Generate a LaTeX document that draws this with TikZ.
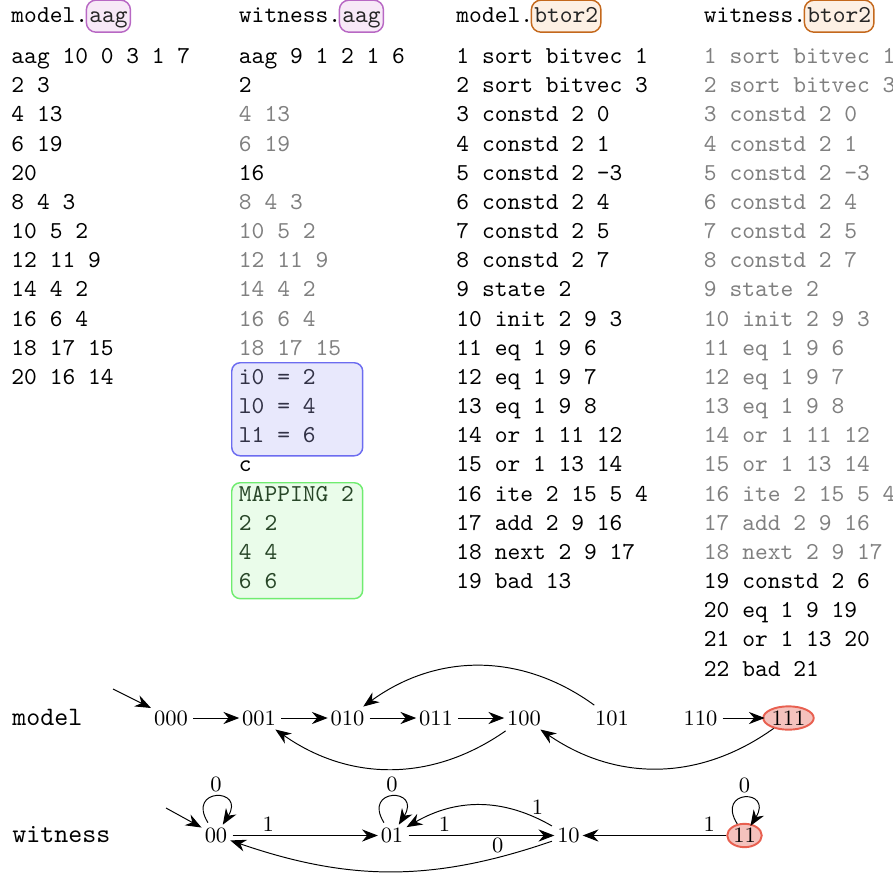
\documentclass[tikz,border=0pt]{standalone}
\usepackage{fontspec}
\usetikzlibrary{arrows.meta,shapes.geometric}
\definecolor{purpbd}{RGB}{184,104,196}
\definecolor{purpfl}{RGB}{247,233,247}
\definecolor{orgbd}{RGB}{196,104,28}
\definecolor{orgfl}{RGB}{253,240,228}
\definecolor{bluebd}{RGB}{108,108,240}
\definecolor{bluefl}{RGB}{232,232,252}
\definecolor{grnbd}{RGB}{112,236,112}
\definecolor{grnfl}{RGB}{234,252,234}
\definecolor{redbd}{RGB}{232,96,80}
\definecolor{redfl}{RGB}{245,194,189}
\definecolor{greytext}{RGB}{128,128,128}
\definecolor{bluetext}{RGB}{50,50,70}
\definecolor{grntext}{RGB}{40,70,40}
\begin{document}
\begin{tikzpicture}[x=0.4115pt,y=-0.4115pt,
  >={Stealth[length=6.5pt,width=5pt]},
  code/.style={font=\ttfamily, anchor=base west, inner sep=0pt},
  hl/.style={draw=#1bd, fill=#1fl, line width=0.6pt, rounded corners=4pt,
    inner xsep=1.2pt, inner ysep=0.6pt, font=\ttfamily, text=black!85,
    anchor=base west, xshift=-1.2pt},
  panel/.style={draw=#1bd, fill=#1fl, line width=0.6pt, rounded corners=3.5pt,
    anchor=north west, inner sep=0pt},
  state/.style={font=\small, inner sep=2pt},
  accept/.style={ellipse, draw=redbd, fill=redfl, line width=0.8pt, inner sep=0.4pt, font=\small},
  lab/.style={font=\small, inner sep=1.5pt},
  rowlab/.style={font=\ttfamily\fontsize{10.95}{13}\selectfont, anchor=base west, inner sep=0pt},
  tr/.style={->, shorten >=-1pt},
  selfloop/.style={out=122, in=58, min distance=6mm, looseness=1},
]
\useasboundingbox (0,0) rectangle (893,878);

% headers
\node[code] (h1) at (11,22) {model.};
\node[hl=purp] (h1b) at (h1.base east) {\strut aag};
\node[code] (h2) at (238.5,22) {witness.};
\node[hl=purp] (h2b) at (h2.base east) {\strut aag};
\node[code] (h3) at (456,22) {model.};
\node[hl=org] (h3b) at (h3.base east) {\strut btor2};
\node[code] (h4) at (703.5,22) {witness.};
\node[hl=org] (h4b) at (h4.base east) {\strut btor2};

% column 1
\foreach \t [count=\i from 0] in {aag 10 0 3 1 7, 2 3, 4 13, 6 19, 20, 8 4 3, 10 5 2, 12 11 9, 14 4 2, 16 6 4, 18 17 15, 20 16 14}
  \node[code] (a\i) at (11,{63.5+29.17*\i}) {\t};

% column 2 panels
\node[panel=blue, minimum width=53.9pt, minimum height=38.3pt] (pblue) at (231,362) {};
\node[panel=grn, minimum width=53.9pt, minimum height=47.7pt] (pgrn) at (231,482) {};

\foreach \t/\c [count=\i from 0] in {aag 9 1 2 1 6/black, 2/black, 4 13/greytext, 6 19/greytext, 16/black, 8 4 3/greytext, 10 5 2/greytext, 12 11 9/greytext, 14 4 2/greytext, 16 6 4/greytext, 18 17 15/greytext, i0 = 2/bluetext, l0 = 4/bluetext, l1 = 6/bluetext, c/black, MAPPING 2/grntext, 2 2/grntext, 4 4/grntext, 6 6/grntext}
  \node[code, text=\c] (w\i) at (238.5,{63.5+29.17*\i}) {\t};

% column 3
\foreach \t [count=\i from 0] in {1 sort bitvec 1, 2 sort bitvec 3, 3 constd 2 0, 4 constd 2 1, 5 constd 2 -3, 6 constd 2 4, 7 constd 2 5, 8 constd 2 7, 9 state 2, 10 init 2 9 3, 11 eq 1 9 6, 12 eq 1 9 7, 13 eq 1 9 8, 14 or 1 11 12, 15 or 1 13 14, 16 ite 2 15 5 4, 17 add 2 9 16, 18 next 2 9 17, 19 bad 13}
  \node[code] (b\i) at (456,{63.5+29.17*\i}) {\t};

% column 4
\foreach \t/\c [count=\i from 0] in {1 sort bitvec 1/greytext, 2 sort bitvec 3/greytext, 3 constd 2 0/greytext, 4 constd 2 1/greytext, 5 constd 2 -3/greytext, 6 constd 2 4/greytext, 7 constd 2 5/greytext, 8 constd 2 7/greytext, 9 state 2/greytext, 10 init 2 9 3/greytext, 11 eq 1 9 6/greytext, 12 eq 1 9 7/greytext, 13 eq 1 9 8/greytext, 14 or 1 11 12/greytext, 15 or 1 13 14/greytext, 16 ite 2 15 5 4/greytext, 17 add 2 9 16/greytext, 18 next 2 9 17/greytext, 19 constd 2 6/black, 20 eq 1 9 19/black, 21 or 1 13 20/black, 22 bad 21/black}
  \node[code, text=\c] (c\i) at (703.5,{63.5+29.17*\i}) {\t};

% model automaton
\node[rowlab] (lm) at (12,725.7) {model};
\node[state] (m0) at (171,718) {000};
\node[state] (m1) at (259,718) {001};
\node[state] (m2) at (347.5,718) {010};
\node[state] (m3) at (436,718) {011};
\node[state] (m4) at (524,718) {100};
\node[state] (m5) at (612,718) {101};
\node[state] (m6) at (700.5,718) {110};
\node[accept] (m7) at (788.5,718) {111};
\coordinate (mi) at (113,689);
\draw[tr] (mi) -- (m0);
\draw[tr] (m0) -- (m1);
\draw[tr] (m1) -- (m2);
\draw[tr] (m2) -- (m3);
\draw[tr] (m3) -- (m4);
\draw[tr] (m6) -- (m7);
\draw[tr] (m5) to[bend right=36] (m2);
\draw[tr] (m4) to[bend left=35] (m1);
\draw[tr] (m7) to[bend left=35] (m4);

% witness automaton
\node[rowlab] (lw) at (12,842.7) {witness};
\node[state] (n0) at (216,835.5) {00};
\node[state] (n1) at (392,835.5) {01};
\node[state] (n2) at (568.5,835.5) {10};
\node[accept] (n3) at (744.5,835.5) {11};
\coordinate (wi) at (166,808);
\draw[tr] (wi) -- (n0);
\draw[tr] (n0) to[selfloop] node[lab, above] {0} (n0);
\draw[tr] (n1) to[selfloop] node[lab, above] {0} (n1);
\draw[tr] (n3) to[selfloop] node[lab, above] {0} (n3);
\draw[tr] (n0) -- node[lab, above, pos=0.25] {1} (n1);
\draw[tr] (n1) -- node[lab, above, pos=0.25] {1} (n2);
\draw[tr] (n2) to[bend right=30] node[lab, above, pos=0.1] {1} (n1);
\draw[tr] (n2) to[bend left=19] node[lab, above, pos=0.16] {0} (n0);
\draw[tr] (n3) -- node[lab, above, pos=0.12] {1} (n2);
\end{tikzpicture}
\end{document}
